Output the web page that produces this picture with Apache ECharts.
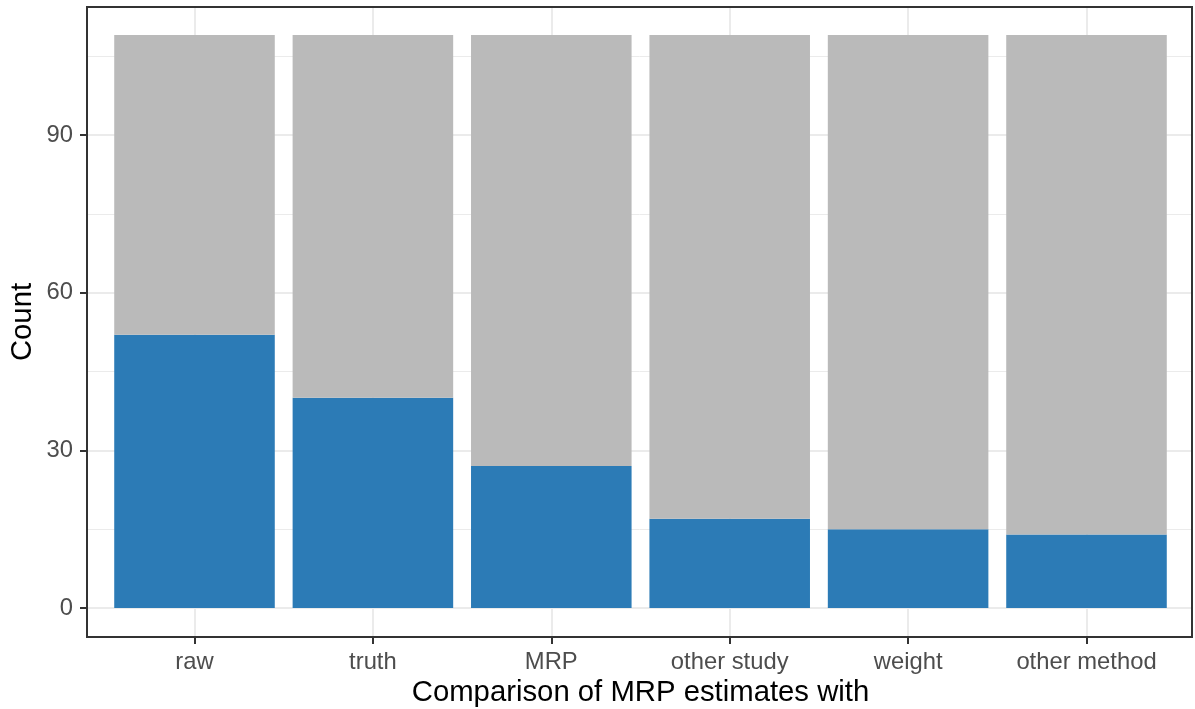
<!DOCTYPE html>
<html>
<head>
<meta charset="utf-8">
<script src="https://cdn.jsdelivr.net/npm/echarts@6/dist/echarts.min.js"></script>
<style>
html,body{margin:0;padding:0;background:#fff;}
#chart{width:1195px;height:709px;}
</style>
</head>
<body>
<div id="chart"></div>
<script>
const categories = ['raw', 'truth', 'MRP', 'other study', 'weight', 'other method'];
const blueCounts = [52, 40, 27, 17, 15, 14];
const greyCounts = [57, 69, 82, 92, 94, 95];
const xTitle = 'Comparison of MRP estimates with';
const yTitle = 'Count';

const FONT = "'Liberation Sans', Arial, sans-serif";
const chart = echarts.init(document.getElementById('chart'), null, {renderer: 'canvas'});

const hiddenAxis = {
  axisLine: {show: false}, axisTick: {show: false}, axisLabel: {show: false}, splitLine: {show: false}
};

const option = {
  backgroundColor: '#ffffff',
  animation: false,
  textStyle: {fontFamily: FONT},
  grid: [
    // 0: panel frame + y title
    {left: 87, right: 3, top: 7, bottom: 72, outerBoundsMode: 'none', containLabel: false,
      show: true, borderColor: '#333333', borderWidth: 2, backgroundColor: 'transparent', z: 5},
    // 1: horizontal gridlines + y tick labels
    {left: 87, right: 3, top: -22.7, bottom: 101, outerBoundsMode: 'none', containLabel: false},
    // 2: vertical gridlines + x tick labels + x title
    {left: 194.5, right: 108.5, top: 7, bottom: 72, outerBoundsMode: 'none', containLabel: false},
    // 3: bars
    {left: 105.3, right: 19.3, top: -22.7, bottom: 101, outerBoundsMode: 'none', containLabel: false}
  ],
  xAxis: [
    Object.assign({gridIndex: 0, type: 'value', min: 0, max: 1}, hiddenAxis),
    Object.assign({gridIndex: 1, type: 'value', min: 0, max: 1}, hiddenAxis),
    {gridIndex: 2, type: 'category', data: categories, boundaryGap: false,
      axisLine: {show: false},
      axisTick: {show: true, length: 7, interval: 0, lineStyle: {color: '#333333', width: 2}},
      axisLabel: {interval: 0, margin: 13, fontSize: 23.8, color: '#4D4D4D', fontFamily: FONT},
      splitLine: {show: true, interval: 0, lineStyle: {color: '#EBEBEB', width: 2}},
      name: xTitle, nameLocation: 'middle', nameGap: 34,
      nameTextStyle: {fontSize: 29.3, color: '#000000', fontFamily: FONT}
    },
    Object.assign({gridIndex: 3, type: 'category', data: categories}, hiddenAxis)
  ],
  yAxis: [
    Object.assign({gridIndex: 0, type: 'value', min: 0, max: 1,
      name: yTitle, nameLocation: 'middle', nameGap: 50,
      nameTextStyle: {fontSize: 29.3, color: '#000000', fontFamily: FONT}}, hiddenAxis),
    {gridIndex: 1, type: 'value', min: 0, max: 120, interval: 30,
      axisLine: {show: false},
      axisTick: {show: true, length: 7, lineStyle: {color: '#333333', width: 2}},
      axisLabel: {margin: 14, fontSize: 23.8, color: '#4D4D4D', fontFamily: FONT, padding: [5, 0, 0, 0]},
      splitLine: {show: true, lineStyle: {color: '#EBEBEB', width: 2}},
      minorTick: {show: false, splitNumber: 2},
      minorSplitLine: {show: true, lineStyle: {color: '#EBEBEB', width: 1}}
    },
    Object.assign({gridIndex: 2, type: 'value', min: 0, max: 1}, hiddenAxis),
    Object.assign({gridIndex: 3, type: 'value', min: 0, max: 120}, hiddenAxis)
  ],
  series: [
    {type: 'bar', name: 'yes', xAxisIndex: 3, yAxisIndex: 3, stack: 'total', data: blueCounts,
      barWidth: '90%', itemStyle: {color: '#2C7BB6'}},
    {type: 'bar', name: 'no', xAxisIndex: 3, yAxisIndex: 3, stack: 'total', data: greyCounts,
      barWidth: '90%', itemStyle: {color: '#BABABA'}}
  ]
};
chart.setOption(option);
</script>
</body>
</html>
